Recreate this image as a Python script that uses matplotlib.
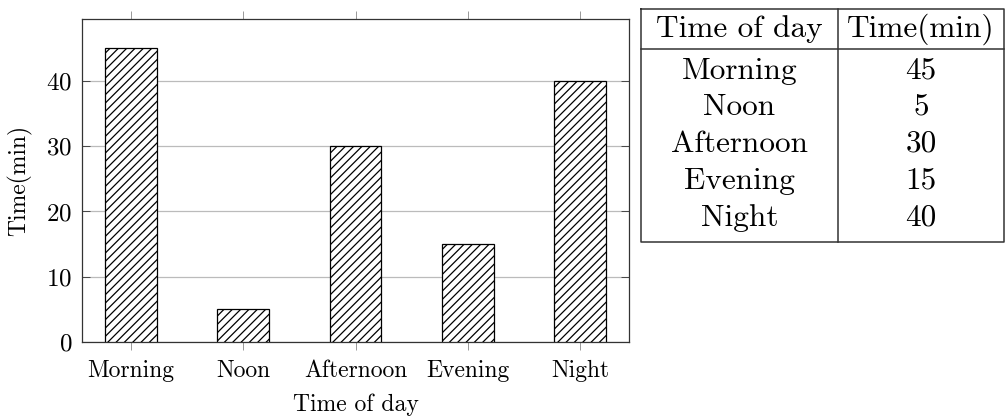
import matplotlib
matplotlib.use("Agg")
import matplotlib.pyplot as plt

plt.rcParams["font.family"] = ["cmr10", "DejaVu Serif"]
plt.rcParams["axes.formatter.use_mathtext"] = True
plt.rcParams["hatch.linewidth"] = 0.9

periods = ["Morning", "Noon", "Afternoon", "Evening", "Night"]
minutes = [45, 5, 30, 15, 40]
y_ticks = [0, 10, 20, 30, 40]
col_headers = ["Time of day", "Time(min)"]

fig = plt.figure(figsize=(10.07, 4.16), dpi=100)
W, H = 1007, 416

# bar chart
ax = fig.add_axes([82 / W, 1 - 342 / H, (629 - 82) / W, (342 - 19) / H])
x = range(len(periods))
ax.bar(x, minutes, width=0.46, color="white", edgecolor="black",
       hatch="////", linewidth=0.9, zorder=3)
ax.set_xlim(-0.436, len(periods) - 1 + 0.436)
ax.set_ylim(0, max(minutes) * 1.1)
ax.set_xticks(list(x))
ax.set_xticklabels(periods, fontsize=17)
ax.set_yticks(y_ticks)
ax.tick_params(axis="y", labelsize=18, direction="in", left=True, right=True,
               length=6, width=0.6, color="#333333", pad=7)
ax.tick_params(axis="x", direction="out", top=True, bottom=True,
               length=6, width=0.6, color="#888888", pad=7)
ax.grid(axis="y", color="#bbbbbb", linewidth=0.9, zorder=0)
for s in ax.spines.values():
    s.set_linewidth(0.9)
    s.set_color("#333333")
ax.set_xlabel("Time of day", fontsize=17, labelpad=8)
ax.set_ylabel("Time(min)", fontsize=17, labelpad=10)

# data table on the right
tx0, tx1, tdiv = 641, 1004, 838
ty0, ty1, thead = 9, 242, 49
tab = fig.add_axes([tx0 / W, 1 - ty1 / H, (tx1 - tx0) / W, (ty1 - ty0) / H])
tab.set_xlim(tx0, tx1)
tab.set_ylim(ty1, ty0)
tab.axis("off")
border = dict(color="#333333", lw=1.1, clip_on=False)
tab.plot([tx0, tx1, tx1, tx0, tx0], [ty0, ty0, ty1, ty1, ty0], **border)
tab.plot([tdiv, tdiv], [ty0, ty1], **border)
tab.plot([tx0, tx1], [thead, thead], **border)
c1 = (tx0 + tdiv) / 2
c2 = (tdiv + tx1) / 2
tab.text(c1, 29, col_headers[0], fontsize=22.5, ha="center", va="center")
tab.text(c2, 29, col_headers[1], fontsize=22.5, ha="center", va="center")
row_y = [71, 107, 144, 181, 218]
for yy, p, m in zip(row_y, periods, minutes):
    tab.text(c1, yy, p, fontsize=22.5, ha="center", va="center")
    tab.text(c2, yy, str(m), fontsize=22.5, ha="center", va="center")

fig.savefig("out.png", dpi=100)
